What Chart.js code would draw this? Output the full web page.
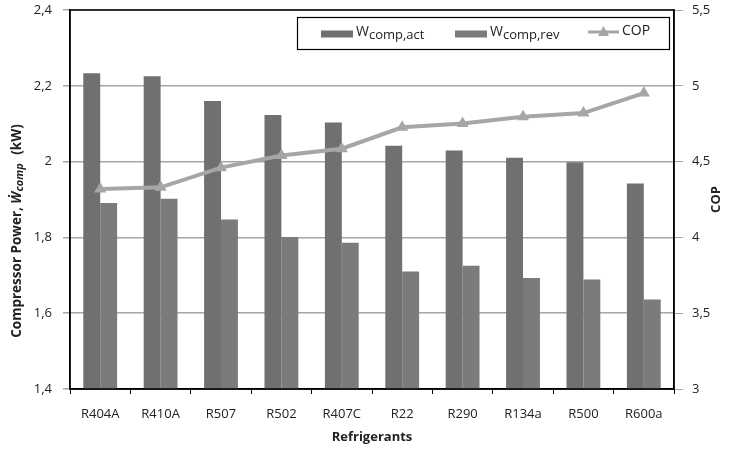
<!DOCTYPE html>
<html><head><meta charset="utf-8">
<script src="https://cdn.jsdelivr.net/npm/chart.js@4.4.1/dist/chart.umd.min.js"></script>
<style>html,body{margin:0;padding:0;background:#fff}canvas{display:block}</style>
</head><body>
<canvas id="c" width="730" height="450"></canvas>
<script>
const categories = ['R404A','R410A','R507','R502','R407C','R22','R290','R134a','R500','R600a'];
const wCompAct = [2.233, 2.225, 2.160, 2.123, 2.103, 2.042, 2.029, 2.010, 1.998, 1.942];
const wCompRev = [1.891, 1.902, 1.847, 1.801, 1.786, 1.710, 1.725, 1.693, 1.689, 1.636];
const cop = [4.32, 4.33, 4.46, 4.54, 4.585, 4.726, 4.752, 4.796, 4.82, 4.952];
const leftTicks = [1.4, 1.6, 1.8, 2.0, 2.2, 2.4];
const rightTicks = [3, 3.5, 4, 4.5, 5, 5.5];

const FONT = "'Open Sans', 'DejaVu Sans', sans-serif";
const TXT = '#222';
const fmt = v => String(Math.round(v*10)/10).replace('.', ',');

function drawRich(ctx, parts, x, y) {
  let cx = x;
  for (const p of parts) {
    ctx.font = p.font;
    ctx.fillText(p.t, cx, y + (p.dy||0));
    cx += ctx.measureText(p.t).width + (p.gap||0);
  }
  return cx - x;
}
function richWidth(ctx, parts) {
  let w = 0;
  for (const p of parts) { ctx.font = p.font; w += ctx.measureText(p.t).width + (p.gap||0); }
  return w;
}

const decor = {
  id: 'decor',
  afterDraw(chart) {
    const ctx = chart.ctx, a = chart.chartArea;
    ctx.save();
    ctx.strokeStyle = '#000'; ctx.lineWidth = 1.5;
    ctx.strokeRect(a.left, a.top, a.right - a.left, a.bottom - a.top);
    // legend box
    ctx.fillStyle = '#fff';
    ctx.fillRect(297, 17, 372, 32);
    ctx.strokeStyle = '#000'; ctx.lineWidth = 1.2;
    ctx.strokeRect(297.5, 17.5, 372, 32);
    ctx.textBaseline = 'middle';
    const ds = chart.data.datasets;
    const ly = 34;
    ctx.fillStyle = ds[0].backgroundColor; ctx.fillRect(321, ly - 3.5, 32, 7);
    ctx.fillStyle = TXT;
    drawRich(ctx, [{t:'W', font:`14px ${FONT}`}, {t:'comp,act', font:`13px ${FONT}`, dy:3}], 356, ly - 2);
    ctx.fillStyle = ds[1].backgroundColor; ctx.fillRect(455, ly - 3.5, 32, 7);
    ctx.fillStyle = TXT;
    drawRich(ctx, [{t:'W', font:`14px ${FONT}`}, {t:'comp,rev', font:`13px ${FONT}`, dy:3}], 490, ly - 2);
    ctx.strokeStyle = ds[2].borderColor; ctx.lineWidth = 3;
    ctx.beginPath(); ctx.moveTo(588, ly - 2); ctx.lineTo(619, ly - 2); ctx.stroke();
    ctx.fillStyle = ds[2].pointBackgroundColor;
    ctx.beginPath(); ctx.moveTo(603.5, ly - 8); ctx.lineTo(609, ly + 2); ctx.lineTo(598, ly + 2); ctx.closePath(); ctx.fill();
    ctx.fillStyle = TXT;
    ctx.font = `14px ${FONT}`;
    ctx.fillText('COP', 622, ly - 3);

    // x title
    ctx.font = `bold 13px ${FONT}`;
    ctx.textAlign = 'center';
    ctx.fillText('Refrigerants', (a.left + a.right)/2, 437);
    // right title
    ctx.save();
    ctx.translate(716, (a.top + a.bottom)/2);
    ctx.rotate(-Math.PI/2);
    ctx.fillText('COP', 0, 0);
    ctx.restore();
    // left title
    ctx.textAlign = 'left';
    const parts = [
      {t:'Compressor Power, ', font:`bold 13.5px ${FONT}`},
      {t:'Ẇ', font:`italic bold 13.5px ${FONT}`},
      {t:'comp', font:`italic bold 11px ${FONT}`, dy:3, gap:5},
      {t:' (kW)', font:`bold 13.5px ${FONT}`}
    ];
    const w = richWidth(ctx, parts);
    ctx.save();
    ctx.translate(17, 231);
    ctx.rotate(-Math.PI/2);
    drawRich(ctx, parts, -w/2, 0);
    ctx.restore();
    ctx.restore();
  }
};

function zeroPad(s){ s.paddingTop = 0; s.paddingBottom = 0; }

new Chart(document.getElementById('c'), {
  data: {
    labels: categories,
    datasets: [
      {type:'bar', label:'W comp,act', data: wCompAct, backgroundColor:'#707070', yAxisID:'y', order:2,
        categoryPercentage:0.56, barPercentage:1.0},
      {type:'bar', label:'W comp,rev', data: wCompRev, backgroundColor:'#7b7b7b', yAxisID:'y', order:2,
        categoryPercentage:0.56, barPercentage:1.0},
      {type:'line', label:'COP', data: cop, yAxisID:'y1', order:0,
        borderColor:'#a6a6a6', borderWidth:4, pointStyle:'triangle', pointRadius:7,
        pointBackgroundColor:'#a6a6a6', pointBorderColor:'#a6a6a6', pointBorderWidth:0, tension:0}
    ]
  },
  options: {
    responsive:false, animation:false, devicePixelRatio:1,
    layout:{padding:{top:10, bottom:0, left:0, right:0}},
    plugins:{legend:{display:false}, tooltip:{enabled:false}},
    scales:{
      x:{
        offset:true,
        grid:{display:true, drawOnChartArea:false, drawTicks:true, tickLength:5, color:'#000', offset:true},
        border:{color:'#000', width:1.5},
        ticks:{color:TXT, font:{family:FONT, size:13}, padding:12, maxRotation:0},
        afterFit(s){ s.height = 61; s.paddingLeft = 0; s.paddingRight = 0; }
      },
      y:{
        position:'left', min:1.4, max:2.4,
        afterBuildTicks(s){ s.ticks = leftTicks.map(v=>({value:v})); },
        grid:{color:'#a6a6a6', lineWidth:1.5, tickLength:7, drawTicks:true},
        border:{color:'#000', width:1.5},
        ticks:{color:TXT, font:{family:FONT, size:13}, padding:11, callback:v=>fmt(v)},
        afterFit(s){ s.width = 70; zeroPad(s); }
      },
      y1:{
        position:'right', min:3, max:5.5,
        afterBuildTicks(s){ s.ticks = rightTicks.map(v=>({value:v})); },
        grid:{drawOnChartArea:false, color:'#a6a6a6', tickLength:9, drawTicks:true},
        border:{color:'#000', width:1.5},
        ticks:{color:TXT, font:{family:FONT, size:13}, padding:9, callback:v=>fmt(v)},
        afterFit(s){ s.width = 56; zeroPad(s); }
      }
    }
  },
  plugins:[decor]
});
</script>
</body></html>
